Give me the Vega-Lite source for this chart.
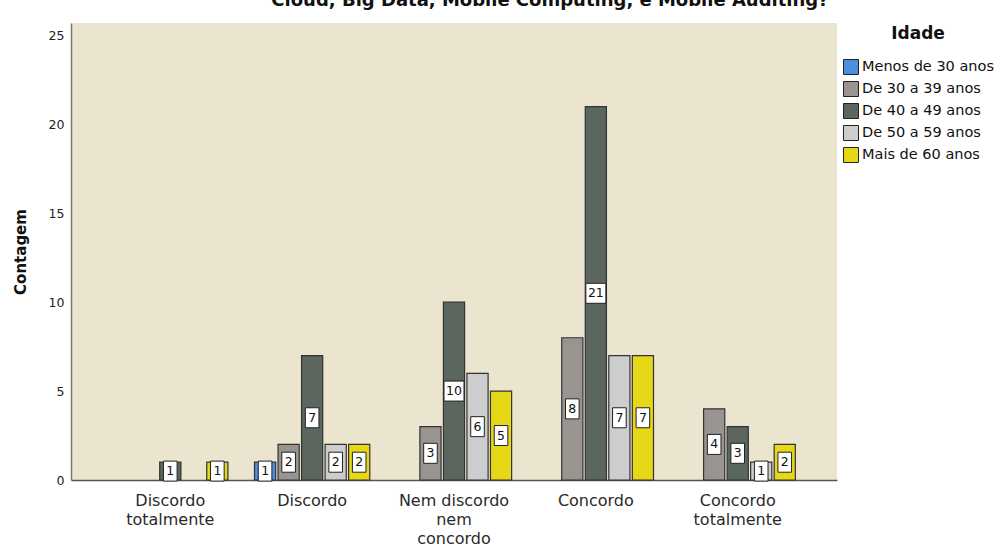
{
  "$schema": "https://vega.github.io/schema/vega-lite/v6.json",
  "autosize": "none",
  "width": 766,
  "height": 457,
  "padding": {"left": 71, "top": 23, "right": 163, "bottom": 71},
  "background": "white",
  "title": {
    "text": "Cloud, Big Data, Mobile Computing, e Mobile Auditing?",
    "fontSize": 18,
    "font": "DejaVu Sans",
    "fontWeight": "bold",
    "color": "#111111",
    "anchor": "middle",
    "dx": 96,
    "offset": 13
  },
  "config": {
    "font": "DejaVu Sans",
    "view": {"fill": "#ebe5d0", "stroke": null}
  },
  "data": {
    "values": [
      {"resposta": "Discordo totalmente", "idade": "De 40 a 49 anos", "contagem": 1},
      {"resposta": "Discordo totalmente", "idade": "Mais de 60 anos", "contagem": 1},
      {"resposta": "Discordo", "idade": "Menos de 30 anos", "contagem": 1},
      {"resposta": "Discordo", "idade": "De 30 a 39 anos", "contagem": 2},
      {"resposta": "Discordo", "idade": "De 40 a 49 anos", "contagem": 7},
      {"resposta": "Discordo", "idade": "De 50 a 59 anos", "contagem": 2},
      {"resposta": "Discordo", "idade": "Mais de 60 anos", "contagem": 2},
      {"resposta": "Nem discordo nem concordo", "idade": "De 30 a 39 anos", "contagem": 3},
      {"resposta": "Nem discordo nem concordo", "idade": "De 40 a 49 anos", "contagem": 10},
      {"resposta": "Nem discordo nem concordo", "idade": "De 50 a 59 anos", "contagem": 6},
      {"resposta": "Nem discordo nem concordo", "idade": "Mais de 60 anos", "contagem": 5},
      {"resposta": "Concordo", "idade": "De 30 a 39 anos", "contagem": 8},
      {"resposta": "Concordo", "idade": "De 40 a 49 anos", "contagem": 21},
      {"resposta": "Concordo", "idade": "De 50 a 59 anos", "contagem": 7},
      {"resposta": "Concordo", "idade": "Mais de 60 anos", "contagem": 7},
      {"resposta": "Concordo totalmente", "idade": "De 30 a 39 anos", "contagem": 4},
      {"resposta": "Concordo totalmente", "idade": "De 40 a 49 anos", "contagem": 3},
      {"resposta": "Concordo totalmente", "idade": "De 50 a 59 anos", "contagem": 1},
      {"resposta": "Concordo totalmente", "idade": "Mais de 60 anos", "contagem": 2}
    ]
  },
  "encoding": {
    "x": {
      "field": "resposta",
      "type": "nominal",
      "sort": null,
      "scale": {
        "domain": ["Discordo totalmente", "Discordo", "Nem discordo nem concordo", "Concordo", "Concordo totalmente"],
        "paddingInner": 0,
        "paddingOuter": 0.2
      },
      "axis": {
        "title": null,
        "labelAngle": 0,
        "labelFont": "DejaVu Sans",
        "labelFontSize": 16,
        "labelColor": "#2a2a2a",
        "labelPadding": 12,
        "labelBaseline": "top",
        "labelLineHeight": 19,
        "ticks": false,
        "domainColor": "#555555",
        "domainWidth": 1.5,
        "labelExpr": "datum.value == 'Discordo totalmente' ? ['Discordo', 'totalmente'] : datum.value == 'Nem discordo nem concordo' ? ['Nem discordo', 'nem', 'concordo'] : datum.value == 'Concordo totalmente' ? ['Concordo', 'totalmente'] : datum.value"
      }
    },
    "xOffset": {
      "field": "idade",
      "type": "nominal",
      "sort": null,
      "scale": {
        "domain": ["Menos de 30 anos", "De 30 a 39 anos", "De 40 a 49 anos", "De 50 a 59 anos", "Mais de 60 anos"],
        "paddingInner": 0.1,
        "paddingOuter": 0.565
      }
    }
  },
  "layer": [
    {
      "mark": {"type": "bar", "stroke": "#333333", "strokeWidth": 1.2},
      "encoding": {
        "y": {
          "field": "contagem",
          "type": "quantitative",
          "scale": {"domain": [0, 25.7], "nice": false},
          "axis": {
            "values": [0, 5, 10, 15, 20, 25],
            "title": "Contagem",
            "titleFont": "DejaVu Sans",
            "titleFontSize": 15,
            "titleFontWeight": "bold",
            "titleColor": "#111111",
            "titlePadding": 20,
            "labelFont": "DejaVu Sans",
            "labelFontSize": 12.5,
            "labelColor": "#222222",
            "labelPadding": 7,
            "ticks": false,
            "grid": false,
            "domainColor": "#777777",
            "domainWidth": 1.5
          }
        },
        "color": {
          "field": "idade",
          "type": "nominal",
          "scale": {
            "domain": ["Menos de 30 anos", "De 30 a 39 anos", "De 40 a 49 anos", "De 50 a 59 anos", "Mais de 60 anos"],
            "range": ["#4a8fdc", "#9a9491", "#5a665e", "#cdcdcd", "#e6d816"]
          },
          "legend": {
            "title": "Idade",
            "titleFont": "DejaVu Sans",
            "titleFontSize": 17,
            "titleFontWeight": "bold",
            "titleColor": "#111111",
            "titleAnchor": "middle",
            "titlePadding": 16,
            "labelFont": "DejaVu Sans",
            "labelFontSize": 14.5,
            "labelColor": "#111111",
            "symbolType": "square",
            "symbolSize": 225,
            "symbolStrokeColor": "#222222",
            "symbolStrokeWidth": 1,
            "symbolOpacity": 1,
            "rowPadding": 2,
            "offset": 3,
            "padding": 3,
            "labelOffset": 3
          }
        }
      }
    },
    {
      "mark": {
        "type": "point",
        "size": 400,
        "filled": true,
        "fill": "white",
        "stroke": "#222222",
        "strokeWidth": 1,
        "opacity": 1
      },
      "encoding": {
        "y": {
          "field": "contagem",
          "type": "quantitative",
          "scale": {"domain": [0, 51.4], "nice": false},
          "axis": null
        },
        "shape": {
          "condition": {"test": "datum.contagem >= 10", "value": "M-1,-1L1,-1L1,1L-1,1Z"},
          "value": "M-0.68,-1L0.68,-1L0.68,1L-0.68,1Z"
        }
      }
    },
    {
      "mark": {"type": "text", "fontSize": 12.5, "font": "DejaVu Sans", "color": "#111111", "baseline": "middle", "align": "center"},
      "encoding": {
        "y": {
          "field": "contagem",
          "type": "quantitative",
          "scale": {"domain": [0, 51.4], "nice": false},
          "axis": null
        },
        "text": {"field": "contagem", "type": "quantitative"}
      }
    }
  ],
  "resolve": {"scale": {"y": "independent"}}
}
